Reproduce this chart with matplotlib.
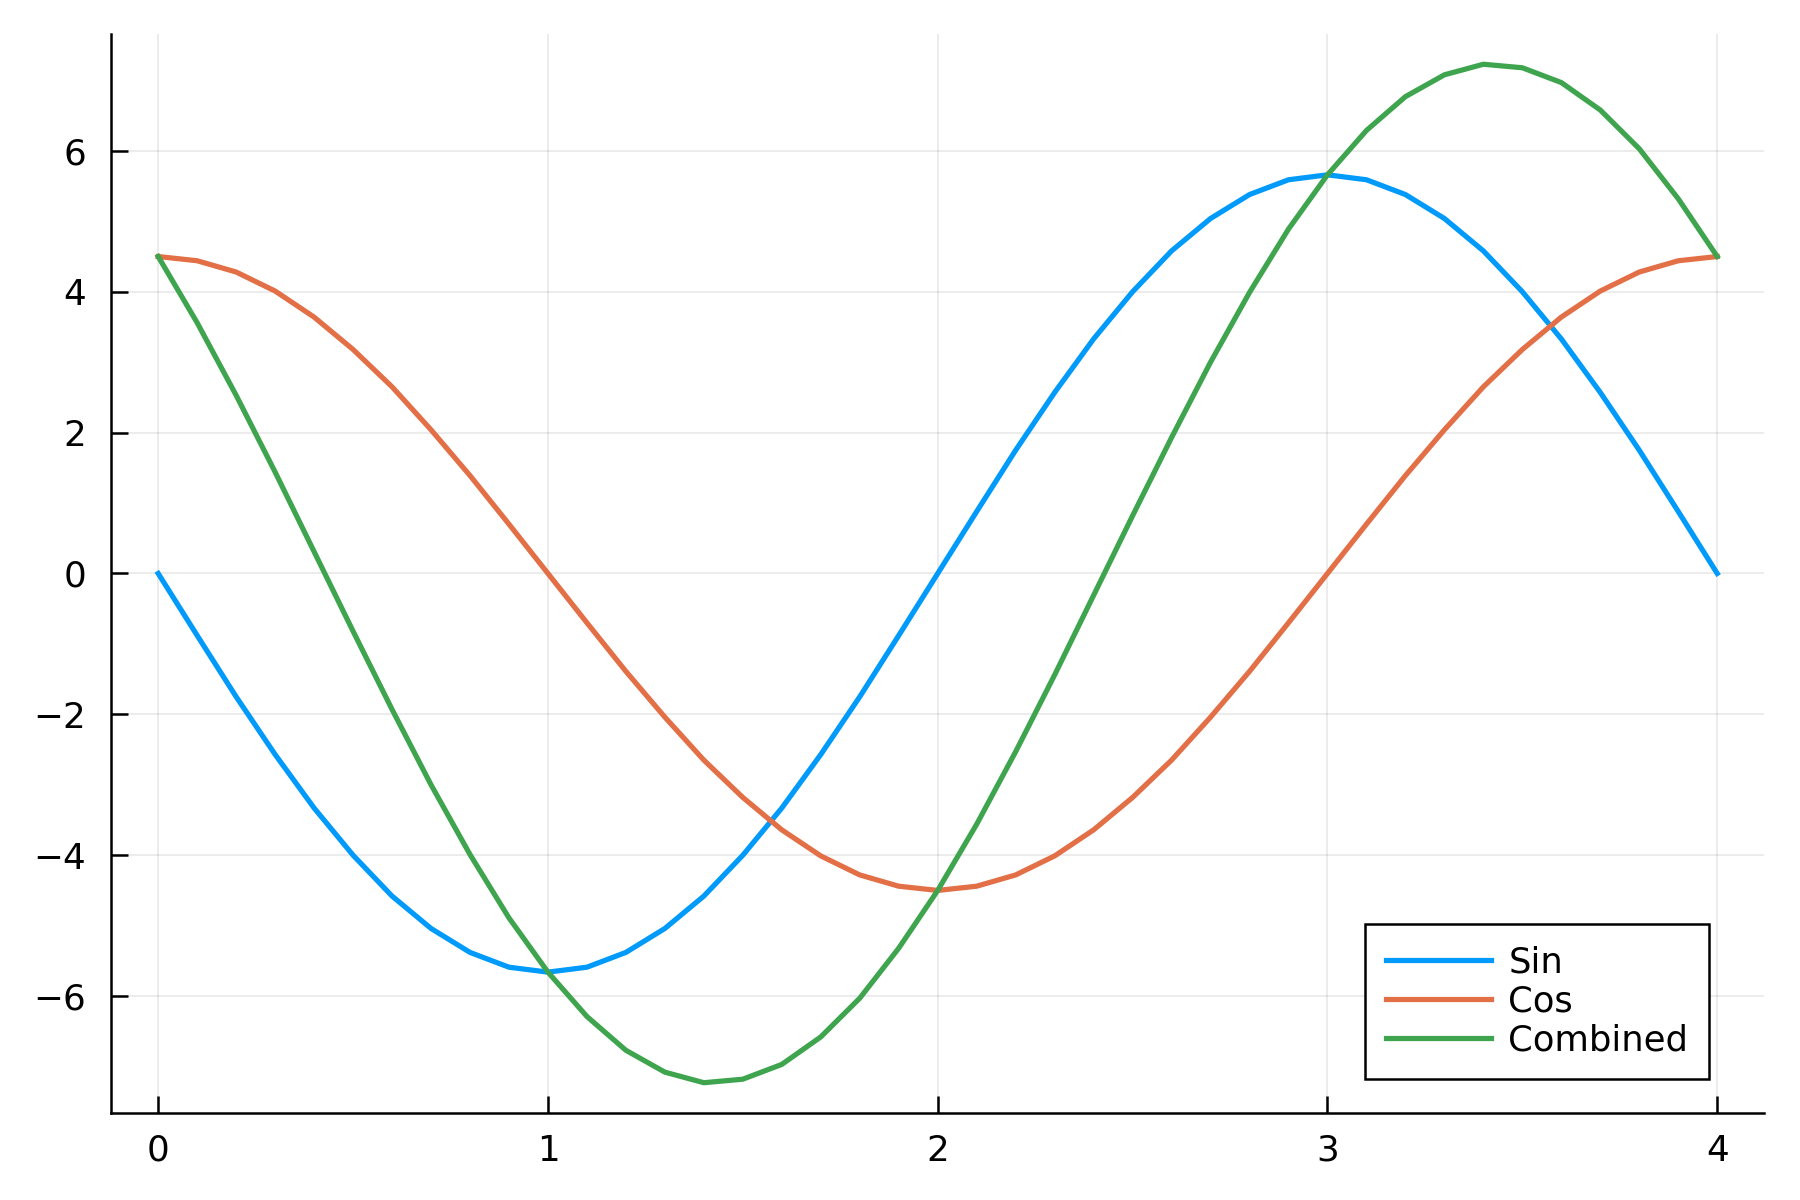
import matplotlib
matplotlib.use('Agg')
import matplotlib.pyplot as plt

# x от 0 до 4 с шагом 0.1
x = [i / 10 for i in range(41)]

sin_vals = [0.00, -0.88, -1.75, -2.57, -3.33, -4.00, -4.58, -5.04, -5.38, -5.59, -5.66,
            -5.59, -5.38, -5.04, -4.58, -4.00, -3.33, -2.57, -1.75, -0.88, 0.00,
            0.88, 1.75, 2.57, 3.33, 4.00, 4.58, 5.04, 5.38, 5.59, 5.66,
            5.59, 5.38, 5.04, 4.58, 4.00, 3.33, 2.57, 1.75, 0.88, 0.00]

cos_vals = [4.50, 4.44, 4.28, 4.01, 3.64, 3.18, 2.65, 2.04, 1.39, 0.70, 0.00,
            -0.70, -1.39, -2.04, -2.65, -3.18, -3.64, -4.01, -4.28, -4.44, -4.50,
            -4.44, -4.28, -4.01, -3.64, -3.18, -2.65, -2.04, -1.39, -0.70, 0.00,
            0.70, 1.39, 2.04, 2.65, 3.18, 3.64, 4.01, 4.28, 4.44, 4.50]

combined_vals = [4.50, 3.56, 2.53, 1.44, 0.31, -0.82, -1.93, -3.00, -3.99, -4.89, -5.66,
                 -6.29, -6.77, -7.08, -7.23, -7.18, -6.97, -6.58, -6.03, -5.32, -4.50,
                 -3.56, -2.53, -1.44, -0.31, 0.82, 1.93, 3.00, 3.99, 4.89, 5.66,
                 6.29, 6.77, 7.08, 7.23, 7.18, 6.97, 6.58, 6.03, 5.32, 4.50]

labels = ['Sin', 'Cos', 'Combined']
colors = ['#009AFA', '#E36F47', '#3EA44E']

plt.rcParams['font.family'] = ['DejaVu Sans']

fig = plt.figure(figsize=(6, 4), dpi=300)
ax = fig.add_axes([0.0619, 0.0725, 0.9181, 0.8992])

for vals, lab, col in zip([sin_vals, cos_vals, combined_vals], labels, colors):
    ax.plot(x, vals, color=col, linewidth=1.25, label=lab)

ax.set_xlim(-0.12, 4.12)
ax.set_ylim(-7.66, 7.66)
ax.set_xticks([0, 1, 2, 3, 4])
ax.set_yticks([-6, -4, -2, 0, 2, 4, 6])

ax.grid(True, color='black', alpha=0.08, linewidth=0.45)
ax.set_axisbelow(True)

for side in ['top', 'right']:
    ax.spines[side].set_visible(False)
for side in ['left', 'bottom']:
    ax.spines[side].set_linewidth(0.6)

ax.tick_params(direction='in', length=4, width=0.6, labelsize=8.6, colors='black')
ax.tick_params(axis='x', pad=5)
ax.tick_params(axis='y', pad=6)

leg = ax.legend(loc='lower right', bbox_to_anchor=(0.967, 0.0315), borderaxespad=0,
                fontsize=8.5, fancybox=False, edgecolor='black', framealpha=1,
                handlelength=2.95, handletextpad=0.5, labelspacing=0.15,
                borderpad=0.6)
leg.get_frame().set_linewidth(0.6)

fig.savefig('out.png', dpi=300)
